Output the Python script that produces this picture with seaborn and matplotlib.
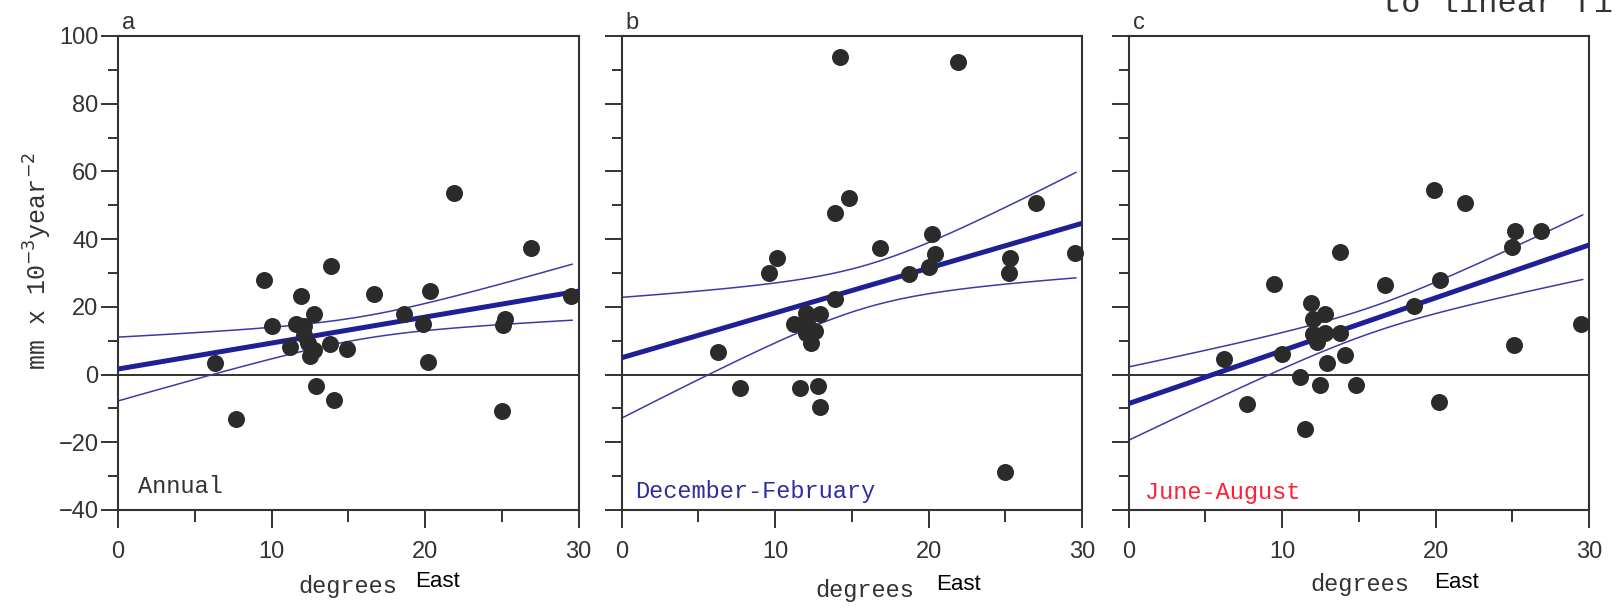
import numpy as np
import pandas as pd
import seaborn as sns
import matplotlib.pyplot as plt

# Trend per station vs longitude
ann_lon = [6.3, 7.7, 9.5, 10.0, 11.2, 11.6, 11.9, 12.1, 12.1, 12.4, 12.8, 12.5, 12.8, 12.9, 13.9,
           13.8, 14.1, 14.9, 16.7, 18.6, 19.9, 20.3, 20.2, 21.9, 25.0, 25.2, 25.1, 26.9, 29.5]
ann_val = [3.3, -13.1, 28.0, 14.2, 8.2, 14.9, 23.2, 14.3, 11.6, 9.2, 7.2, 5.4, 18.0, -3.3, 32.2,
           9.0, -7.5, 7.7, 23.8, 18.0, 14.8, 24.6, 3.6, 53.6, -10.9, 16.3, 14.6, 37.5, 23.2]

djf_lon = [14.2, 21.9, 14.8, 13.9, 27.0, 20.2, 16.8, 10.1, 9.6, 20.4, 20.0, 18.7, 25.3, 25.2, 29.5,
           13.9, 12.0, 12.9, 11.2, 12.1, 12.6, 12.0, 12.3, 6.3, 7.7, 11.6, 12.8, 12.9, 25.0]
djf_val = [93.8, 92.2, 52.2, 47.8, 50.7, 41.6, 37.3, 34.4, 29.9, 35.5, 31.9, 29.6, 34.4, 29.9, 36.0,
           22.2, 18.3, 17.9, 14.8, 15.3, 12.9, 12.2, 9.4, 6.7, -4.1, -3.9, -3.5, -9.5, -28.9]

jja_lon = [19.9, 21.9, 25.2, 26.9, 25.0, 13.8, 9.5, 16.7, 20.3, 18.6, 11.9, 12.8, 12.0, 29.5, 12.8,
           12.0, 13.8, 12.3, 25.1, 10.0, 14.1, 6.2, 12.9, 11.2, 12.5, 14.8, 7.7, 20.2, 11.5]
jja_val = [54.6, 50.8, 42.5, 42.5, 37.8, 36.2, 26.8, 26.6, 27.9, 20.2, 21.0, 17.9, 16.3, 14.9, 12.4,
           11.9, 12.4, 9.6, 8.7, 6.2, 5.7, 4.7, 3.5, -0.8, -3.2, -3.1, -8.7, -8.1, -16.1]

panel_letters = ["a", "b", "c"]
season_names = ["Annual", "December-February", "June-August"]
season_colors = ["#333333", "#2e2e9c", "#ff2035"]
x_ticks = [0, 10, 20, 30]
y_ticks = [-40, -20, 0, 20, 40, 60, 80, 100]
band_t = 1.31  # ~80% two-sided t value for n-2 = 27

sns.set_style("ticks")
plt.rcParams["font.family"] = ["Liberation Sans", "DejaVu Sans"]
mono = ["Liberation Mono", "DejaVu Sans Mono"]

fig = plt.figure(figsize=(16.18, 6.13), dpi=100)
lefts = [118 / 1618, 621.7 / 1618, 1128.5 / 1618]
width = 460.5 / 1618
bottom = 103 / 613
height = 474 / 613

datasets = [(ann_lon, ann_val), (djf_lon, djf_val), (jja_lon, jja_val)]
name_pos = [(0.044, 0.036), (0.029, 0.025), (0.036, 0.023)]

for i, (lon, val) in enumerate(datasets):
    ax = fig.add_axes([lefts[i], bottom, width, height])
    df = pd.DataFrame({"lon": lon, "val": val})

    # least squares fit with a confidence band for the fitted mean
    x = df["lon"].to_numpy()
    y = df["val"].to_numpy()
    slope, icpt = np.polyfit(x, y, 1)
    n = len(x)
    resid = y - (icpt + slope * x)
    s = np.sqrt((resid ** 2).sum() / (n - 2))
    sxx = ((x - x.mean()) ** 2).sum()
    xs = np.linspace(0, 29.6, 80)
    fit = icpt + slope * xs
    se = band_t * s * np.sqrt(1 / n + (xs - x.mean()) ** 2 / sxx)

    ax.axhline(0, color="#222222", lw=1.3, zorder=1)
    sns.lineplot(x=xs, y=fit + se, ax=ax, color="#3b3ba8", lw=1.1, estimator=None, zorder=2)
    sns.lineplot(x=xs, y=fit - se, ax=ax, color="#3b3ba8", lw=1.1, estimator=None, zorder=2)
    xl = np.array([0, 30])
    sns.lineplot(x=xl, y=icpt + slope * xl, ax=ax, color="#1f1f98", lw=3.6, estimator=None, zorder=3)
    sns.scatterplot(data=df, x="lon", y="val", ax=ax, s=150, color="#2b2b2b",
                    linewidth=0, zorder=4, clip_on=False)

    ax.set_xlim(0, 30)
    ax.set_ylim(-40, 100)
    ax.set_xticks(x_ticks)
    ax.set_xticks([5, 15, 25], minor=True)
    ax.set_yticks(y_ticks)
    ax.set_yticks([-30, -10, 10, 30, 50, 70, 90], minor=True)
    ax.set_xlabel("")
    ax.set_ylabel("")
    ax.tick_params(axis="x", which="major", direction="out", length=13, width=1.4,
                   color="#333333", labelsize=17, pad=9, labelcolor="#333333")
    ax.tick_params(axis="x", which="minor", direction="out", length=8.5, width=1.4, color="#333333")
    ax.tick_params(axis="y", which="major", direction="out", length=12, width=1.4,
                   color="#333333", labelsize=17, pad=2, labelcolor="#333333")
    ax.tick_params(axis="y", which="minor", direction="out", length=7, width=1.4, color="#333333")
    if i > 0:
        ax.tick_params(axis="y", labelleft=False)
    for sp in ax.spines.values():
        sp.set_visible(True)
        sp.set_color("#333333")
        sp.set_linewidth(1.5)

    ax.text(0.009, 1.014, panel_letters[i], transform=ax.transAxes, fontsize=17,
            color="#333333", va="baseline")
    ax.text(name_pos[i][0], name_pos[i][1], season_names[i], transform=ax.transAxes,
            fontsize=17, family=mono, color=season_colors[i], va="baseline")

fig.text(38 / 1618, 0.574, "mm x 10$^{-3}$year$^{-2}$", rotation=90, ha="center",
         va="center", fontsize=18, family=mono, color="#333333")

deg_pos = [(0.2151, 0.044), (0.5346, 0.036), (0.8405, 0.046)]
east_pos = [(0.2707, 0.052), (0.5921, 0.046), (0.8999, 0.049)]
for (dx, dy), (ex, ey) in zip(deg_pos, east_pos):
    fig.text(dx, dy, "degrees", ha="center", va="center", fontsize=17, family=mono, color="#333333")
    fig.text(ex, ey, "East", ha="center", va="center", fontsize=16, color="black")

# partly cut off by the top edge, as in the source image
fig.text(1382 / 1618, 601.5 / 613, "to linear fits", fontsize=23, family=mono,
         color="#333333", va="baseline")

fig.savefig("out.png", dpi=100)
